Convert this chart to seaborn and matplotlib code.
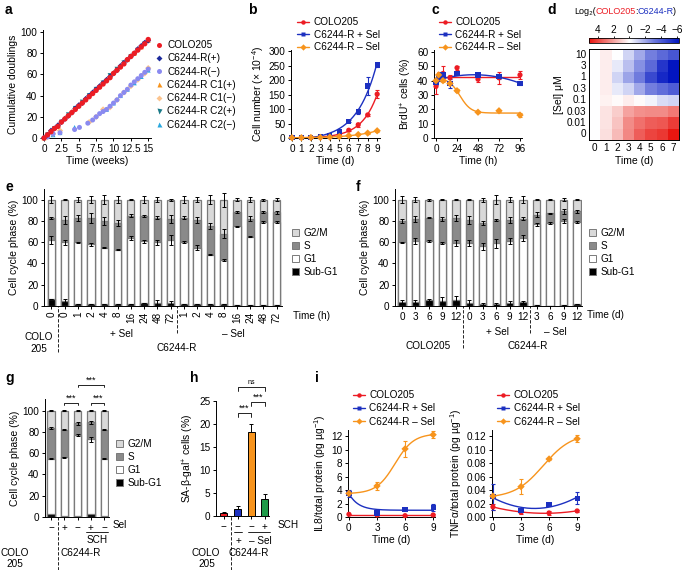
import numpy as np
import pandas as pd
import matplotlib
matplotlib.use('Agg')
import matplotlib.pyplot as plt
import seaborn as sns
from matplotlib.colors import LinearSegmentedColormap
from matplotlib.patches import Patch
from matplotlib.lines import Line2D
from matplotlib.text import Annotation

sns.set_theme(style='ticks')
plt.rcParams['font.family'] = ['Liberation Sans', 'DejaVu Sans']
FS = 7.2
plt.rcParams.update({
    'font.size': FS, 'axes.linewidth': 0.7,
    'xtick.major.width': 0.7, 'ytick.major.width': 0.7,
    'xtick.major.size': 2.5, 'ytick.major.size': 2.5,
    'xtick.labelsize': FS, 'ytick.labelsize': FS, 'axes.labelsize': 7.5,
    'xtick.major.pad': 1.5, 'ytick.major.pad': 1.5, 'axes.labelpad': 2,
    'legend.fontsize': FS, 'axes.edgecolor': 'black',
    'xtick.color': 'black', 'ytick.color': 'black', 'text.color': 'black',
    'axes.labelcolor': 'black',
    'mathtext.fontset': 'custom', 'mathtext.rm': 'Liberation Sans',
    'mathtext.it': 'Liberation Sans:italic', 'mathtext.bf': 'Liberation Sans:bold',
})

RED = '#ec1c24'
BLUE = '#1c30c0'
ORANGE = '#f7941d'
GREEN = '#1e9a48'
G2M_C = '#d9d9d9'
S_C = '#8a8a8a'
EDGE = '#7a7a7a'

# ---------------- data ----------------
# panel a
a_weeks_hi = [0, 0.5, 1, 1.5, 2, 2.5, 3, 3.5, 4, 4.5, 5, 5.5, 6, 6.5, 7, 7.5, 8, 8.5, 9, 9.5,
              10, 10.5, 11, 11.5, 12, 12.5, 13, 13.5, 14, 14.5, 15]
a_colo = [0, 3, 6, 9, 11, 15, 18, 21, 24, 27, 30, 33, 36, 39, 42, 45, 48, 51, 54, 57,
          61, 64, 67, 70, 74, 77, 80, 83, 86, 89, 93]
a_r_plus = [0, 3, 7, 9, 12, 15, 18, 21, 24, 28, 31, 33, 37, 40, 43, 46, 49, 52, 55, 58,
            61, 64, 68, 71, 74, 77, 80, 84, 87, 90, 92]
a_weeks_c1p = [0, 1, 2, 3, 4, 5, 6, 7, 8, 9, 10, 11, 12, 13, 14, 15]
a_c1_plus = [0, 6, 12, 19, 25, 31, 37, 43, 49, 55, 62, 68, 74, 80, 86, 92]
a_weeks_c2p = [0.5, 1.5, 2.5, 3.5, 4.5, 5.5, 6.5, 7.5, 8.5, 9.5, 10.5, 11.5, 12.5, 13.5, 14.5]
a_c2_plus = [3, 9, 15, 22, 28, 34, 40, 46, 52, 59, 65, 71, 77, 83, 89]
a_weeks_lo = [0, 0.5, 1.3, 2.3, 4.4, 5.1, 6.3, 7, 7.5, 8, 8.5, 9, 9.5, 10, 10.5, 11, 11.5,
              12, 12.5, 13, 13.5, 14, 14.5, 15]
a_r_minus = [0, 1, 4, 5, 8, 10, 14, 17, 20, 23, 25, 27, 30, 33, 36, 40, 43, 46, 50, 53,
             56, 59, 62, 65]
a_weeks_c1m = [0.5, 1.3, 2.3, 6.5, 7.5, 8.5, 9.5, 10.5, 11.5, 12.5, 13.5, 14.5, 15]
a_c1_minus = [1, 4, 7, 15, 20, 27, 29, 36, 43, 49, 55, 61, 66]
a_weeks_c2m = [1.3, 2.3, 4.4, 9, 10, 11, 12, 13, 14, 15]
a_c2_minus = [3, 5, 10, 27, 33, 40, 46, 52, 58, 64]

# panel b
b_days = [0, 1, 2, 3, 4, 5, 6, 7, 8, 9]
b_colo = [1, 1.5, 2, 3, 5, 12, 27, 46, 80, 152]
b_colo_err = [0.3, 0.3, 0.5, 0.5, 1, 2, 3, 7, 4, 15]
b_plus = [1, 2, 3, 5, 10, 22, 58, 92, 180, 253]
b_plus_err = [0.3, 0.5, 0.5, 1, 1.5, 2, 3, 8, 30, 6]
b_minus = [1, 1, 1.5, 2, 3, 5, 8, 12, 17, 25]
b_minus_err = [0.2, 0.2, 0.3, 0.3, 0.5, 0.5, 1, 1, 1.5, 4]

# panel c
c_hours = [0, 3, 8, 16, 24, 48, 72, 96]
c_colo = [36, 43, 45, 42, 49, 41, 42, 44]
c_colo_err = [5, 3, 5, 2, 1.5, 2, 4, 3]
c_plus = [39, 42, 44, 38, 45, 44, 43, 38]
c_plus_err = [2, 2, 2, 3, 1, 1, 2, 1]
c_minus = [40, 44, 40, 38, 33, 18, 19, 16]
c_minus_err = [1, 1, 1, 1, 1, 0.8, 0.8, 1.5]

# panel d
d_sel = ['10', '3', '1', '0.3', '0.1', '0.03', '0.01', '0']
d_days = ['0', '1', '2', '3', '4', '5', '6', '7']
d_vals = [
    [0, 0.4, 0.0, -1.0, -2.0, -3.0, -3.6, -4.2],
    [0, 0.4, -0.5, -1.5, -2.6, -3.6, -5.2, -6.2],
    [0, 0.4, -1.0, -2.1, -3.1, -4.6, -5.6, -6.2],
    [0, 0.4, -0.5, -1.0, -2.0, -3.0, -3.5, -4.0],
    [0, 0.3, 0.1, 0.4, 0.1, -0.3, -0.8, -1.0],
    [0, 0.6, 1.1, 2.0, 2.4, 2.5, 2.5, 2.9],
    [0, 0.6, 1.3, 2.5, 3.1, 3.5, 3.6, 4.2],
    [0, 0.7, 1.5, 2.6, 3.5, 4.0, 4.3, 5.0],
]

# panel e
e_labels = ['0', '0', '1', '2', '4', '8', '16', '24', '48', '72',
            '1', '2', '4', '8', '16', '24', '48', '72']
e_sub = [7, 5, 2, 2, 2, 1.5, 1.5, 2.5, 3, 3, 1.5, 1.5, 1.5, 1.5, 1, 1, 1, 1]
e_g1 = [62, 60, 60, 58, 55, 53, 64, 61, 60, 62, 60, 55, 48, 43, 75, 65, 79, 79]
e_s = [83, 81, 83, 83, 80, 78, 85, 85, 83, 82, 83, 81, 75, 68, 88, 82, 88, 88]
e_total = [100] * 18
e_total_err = [3, 0.5, 2.5, 3.5, 4.5, 3, 0.5, 3, 2.5, 1, 3, 2.5, 4.5, 6.5, 1.5, 2.5, 1, 1.5]
e_s_err = [1, 3.5, 3, 4.5, 3.5, 2.5, 1.5, 1, 1.5, 4, 1.5, 2.5, 3, 4.5, 1, 2.5, 1, 1.5]
e_g1_err = [3.5, 2.5, 0.5, 1.5, 0.5, 0.5, 1.5, 1.5, 2.5, 4.5, 1, 2, 0.5, 1, 0.5, 0.5, 0.5, 0.5]
e_sub_err = [0, 2, 0, 0, 0, 0, 0, 0, 3, 1.5, 0, 0, 0, 0, 0, 0, 0, 0]

# panel f
f_labels = ['0', '3', '6', '9', '12', '0', '3', '6', '9', '12', '3', '6', '9', '12']
f_sub = [4, 4, 6, 5, 6, 3, 2, 2, 3, 3.5, 0.5, 0.3, 1, 1.5]
f_g1 = [60, 61, 61, 59, 59, 59, 56, 59, 61, 64, 77, 78, 80, 79]
f_s = [80, 82, 83, 82, 83, 81, 78, 81, 81, 82, 86, 87, 89, 89]
f_total = [100] * 14
f_total_err = [3, 2.5, 1, 0.5, 0.3, 0.5, 2, 4, 2.5, 3.5, 0.5, 0.3, 1.5, 0.5]
f_s_err = [1.5, 3, 0.5, 2, 3, 4, 1.5, 1, 2.5, 1.5, 2, 0.3, 2.5, 1.5]
f_g1_err = [0.5, 3, 1, 1, 3, 3, 3, 4, 3, 3, 1.5, 1, 2, 0.5]
f_sub_err = [1.5, 1.5, 1, 3, 3.5, 3, 1, 1, 1.5, 1, 0, 0, 0, 0]

# panel g
g_labels = ['\u2212', '+', '\u2212', '+', '\u2212']
g_sub = [3, 1, 0.5, 3, 1]
g_g1 = [55, 56, 77, 73, 55]
g_s = [84, 82, 88, 89, 82]
g_total = [100] * 5
g_total_err = [0.5, 0.5, 0.5, 0.5, 0.5]
g_s_err = [1, 0.5, 1, 1.5, 0.5]
g_g1_err = [0.5, 0.5, 1, 2.5, 0.5]

# panel h
h_sch = ['\u2212', '\u2212', '\u2212', '+']
h_vals = [0.6, 1.5, 18.3, 3.8]
h_err = [0.3, 0.7, 1.7, 1.0]
h_colors = [RED, BLUE, ORANGE, GREEN]

# panel i
i_days = [0, 3, 6, 9]
il8_colo = [0.4, 0.3, 0.2, 0.3]
il8_colo_err = [0.1, 0.1, 0.1, 0.1]
il8_plus = [3.5, 0.6, 1.1, 1.4]
il8_plus_err = [0.5, 0.2, 0.2, 0.5]
il8_minus = [3.5, 4.6, 10.1, 12.2]
il8_minus_err = [0.3, 0.6, 1.2, 0.5]
tnf_colo = [0.015, 0.007, 0.006, 0.009]
tnf_colo_err = [0.004, 0.002, 0.003, 0.001]
tnf_plus = [0.030, 0.010, 0.019, 0.028]
tnf_plus_err = [0.019, 0.002, 0.002, 0.009]
tnf_minus = [0.031, 0.045, 0.086, 0.116]
tnf_minus_err = [0.003, 0.011, 0.002, 0.005]

series_labels = ['COLO205', 'C6244-R + Sel', 'C6244-R \u2013 Sel']

# ---------------- helpers ----------------
W, H = 685, 570
fig = plt.figure(figsize=(W / 100, H / 100), dpi=100)


def add_ax(l, t, r, b):
    return fig.add_axes([l / W, 1 - b / H, (r - l) / W, (b - t) / H])


def ftext(x, y, s, **kw):
    kw.setdefault('ha', 'center')
    kw.setdefault('va', 'center')
    kw.setdefault('fontsize', FS)
    return fig.text(x / W, 1 - y / H, s, **kw)


def place_legend(ax, handles, labels, x, y, **kw):
    opts = dict(loc='upper left', bbox_to_anchor=(x / W, 1 - y / H),
                bbox_transform=fig.transFigure, frameon=False, borderpad=0,
                borderaxespad=0, fontsize=FS)
    opts.update(kw)
    return ax.legend(handles, labels, **opts)


def style_ax(ax):
    sns.despine(ax=ax)
    ax.tick_params(axis='both', which='major', direction='out')


# least-squares curve fits of the plotted points (used for the smooth fitted lines)
def fit_sigmoid(x, y):
    x = np.asarray(x, float)
    y = np.asarray(y, float)
    span = x.max() - x.min()
    best = None
    for x0 in np.linspace(x.min(), x.max(), 160):
        for k in np.linspace(span / 25, span / 3, 80):
            s = 1.0 / (1.0 + np.exp(-(x - x0) / k))
            A = np.column_stack([np.ones_like(x), s])
            coef = np.linalg.lstsq(A, y, rcond=None)[0]
            r = ((A @ coef - y) ** 2).sum()
            if best is None or r < best[0]:
                best = (r, x0, k, coef)
    _, x0, k, coef = best
    return lambda t: coef[0] + coef[1] / (1.0 + np.exp(-(t - x0) / k))


def fit_exp(x, y, rates):
    x = np.asarray(x, float)
    y = np.asarray(y, float)
    best = None
    for b in rates:
        A = np.column_stack([np.ones_like(x), np.exp(b * x)])
        coef = np.linalg.lstsq(A, y, rcond=None)[0]
        r = ((A @ coef - y) ** 2).sum()
        if best is None or r < best[0]:
            best = (r, b, coef)
    _, b, coef = best
    return lambda t: coef[0] + coef[1] * np.exp(b * t)


def fit_poly(x, y, order):
    p = np.polyfit(np.asarray(x, float), np.asarray(y, float), order)
    return lambda t: np.polyval(p, t)


def curve_panel(ax, x, ys, errs, colors, markers, fits, ms=14):
    xf = np.linspace(min(x), max(x), 200)
    for y, e, c, m, f in zip(ys, errs, colors, markers, fits):
        sns.lineplot(x=xf, y=f(xf), ax=ax, color=c, lw=1.0, zorder=2)
        ax.errorbar(x, y, yerr=e, fmt='none', ecolor=c, elinewidth=0.8,
                    capsize=1.6, capthick=0.8, zorder=3, clip_on=False)
        sns.scatterplot(x=x, y=y, ax=ax, color=c, marker=m, s=ms,
                        edgecolor='none', linewidth=0, zorder=4, clip_on=False)


def line_handles(colors, markers):
    return [Line2D([0], [0], color=c, marker=m, lw=1.0, ms=3.2, mec='none')
            for c, m in zip(colors, markers)]


# ---------------- panel a ----------------
axa = add_ax(43, 30, 151, 138)
a_series = [
    ('C6244-R C2(\u2212)', a_weeks_c2m, a_c2_minus, '#2aa8df', '^', 12),
    ('C6244-R C1(\u2212)', a_weeks_c1m, a_c1_minus, '#fcc48e', 'D', 10),
    ('C6244-R(\u2212)', a_weeks_lo, a_r_minus, '#8a8af0', 'o', 13),
    ('C6244-R C2(+)', a_weeks_c2p, a_c2_plus, '#1a7a88', 'v', 12),
    ('C6244-R C1(+)', a_weeks_c1p, a_c1_plus, ORANGE, '^', 12),
    ('C6244-R(+)', a_weeks_hi, a_r_plus, '#1c2a9c', 'D', 9),
    ('COLO205', a_weeks_hi, a_colo, RED, 'o', 15),
]
a_handles = {}
for name, t, v, c, m, s in a_series:
    sns.scatterplot(x=t, y=v, ax=axa, color=c, marker=m, s=s, edgecolor='none',
                    linewidth=0, clip_on=False, zorder=3)
    a_handles[name] = Line2D([0], [0], ls='none', marker=m, color=c, mec='none',
                             ms=3.6 if m != 'D' else 3.0)
a_order = ['COLO205', 'C6244-R(+)', 'C6244-R(\u2212)', 'C6244-R C1(+)',
           'C6244-R C1(\u2212)', 'C6244-R C2(+)', 'C6244-R C2(\u2212)']
axa.set_xlim(-0.15, 15.4)
axa.set_ylim(0, 102)
axa.set_xticks([0, 2.5, 5, 7.5, 10, 12.5, 15])
axa.set_xticklabels(['0', '2.5', '5', '7.5', '10', '12.5', '15'])
axa.set_yticks([0, 20, 40, 60, 80, 100])
axa.set_xlabel('Time (weeks)')
axa.set_ylabel('Cumulative doublings')
style_ax(axa)
place_legend(axa, [a_handles[k] for k in a_order], a_order, 155, 40,
             handlelength=0.8, handletextpad=0.4, labelspacing=0.33)

# ---------------- panel b ----------------
axb = add_ax(291, 50, 380, 138)
rates_up = np.linspace(0.05, 1.5, 300)
curve_panel(axb, b_days, [b_colo, b_plus, b_minus],
            [b_colo_err, b_plus_err, b_minus_err],
            [RED, BLUE, ORANGE], ['o', 's', 'D'],
            [fit_exp(b_days, b_colo, rates_up), fit_exp(b_days, b_plus, rates_up),
             fit_exp(b_days, b_minus, rates_up)])
axb.set_xlim(-0.1, 9.3)
axb.set_ylim(0, 305)
axb.set_xticks(b_days)
axb.set_yticks([0, 50, 100, 150, 200, 250, 300])
axb.set_xlabel('Time (d)')
axb.set_ylabel('Cell number (\u00d7 10$^{-4}$)')
style_ax(axb)
place_legend(axb, line_handles([RED, BLUE, ORANGE], ['o', 's', 'D']), series_labels,
             297, 17, handlelength=1.2, handletextpad=0.45, labelspacing=0.25)

# ---------------- panel c ----------------
axc = add_ax(434, 50, 522, 138)
curve_panel(axc, c_hours, [c_colo, c_plus, c_minus],
            [c_colo_err, c_plus_err, c_minus_err],
            [RED, BLUE, ORANGE], ['o', 's', 'D'],
            [fit_poly(c_hours, c_colo, 0), fit_poly(c_hours, c_plus, 2),
             fit_sigmoid(c_hours, c_minus)])
axc.set_xlim(-2.3, 98.3)
axc.set_ylim(0, 61.4)
axc.set_xticks([0, 24, 48, 72, 96])
axc.set_yticks([0, 10, 20, 30, 40, 50, 60])
axc.set_xlabel('Time (h)')
axc.set_ylabel('BrdU$^{+}$ cells (%)')
style_ax(axc)
place_legend(axc, line_handles([RED, BLUE, ORANGE], ['o', 's', 'D']), series_labels,
             439, 17, handlelength=1.2, handletextpad=0.45, labelspacing=0.25)

# ---------------- panel d ----------------
axd = add_ax(589, 49, 679, 140)
cax = add_ax(589, 38, 679, 43)
vmin, vmax = -6.25, 5.1
frac0 = (0 - vmin) / (vmax - vmin)
cmap = LinearSegmentedColormap.from_list(
    'rwb', [(0, '#0014c0'), (frac0 * 0.5, '#6d79dd'), (frac0, '#ffffff'),
            (frac0 + (1 - frac0) * 0.5, '#f28a86'), (1, '#e8120c')])
dfd = pd.DataFrame(d_vals, index=d_sel, columns=d_days)
sns.heatmap(dfd, ax=axd, cmap=cmap, vmin=vmin, vmax=vmax, cbar_ax=cax,
            cbar_kws=dict(orientation='horizontal', ticks=[4, 2, 0, -2, -4, -6]))
axd.tick_params(length=0, pad=2, labelsize=FS)
axd.set_yticklabels(d_sel, rotation=0)
axd.set_xticklabels(d_days, rotation=0)
axd.set_xlabel('Time (d)', fontsize=7.5, labelpad=2)
axd.set_ylabel('[Sel] \u03bcM', fontsize=7.5, labelpad=2)
for sp in axd.spines.values():
    sp.set_visible(True)
    sp.set_linewidth(0.7)
    sp.set_color('black')
cax.invert_xaxis()
cax.xaxis.set_ticks_position('top')
cax.tick_params(axis='x', length=1.5, pad=1, labelsize=FS, width=0.6)
cb = axd.collections[0].colorbar
cb.outline.set_linewidth(0.6)
cb.outline.set_edgecolor('black')
TFS = 6.5
tt = ftext(574, 14, 'Log\u2082(', ha='left', va='baseline', fontsize=TFS)
for piece, col in [('COLO205', RED), (':', 'black'), ('C6244-R', BLUE), (')', 'black')]:
    tt = fig.add_artist(Annotation(piece, xy=(1, 0), xycoords=tt, xytext=(-0.3, 0),
                                   textcoords='offset points', va='bottom', ha='left',
                                   color=col, fontsize=TFS))


# ---------------- stacked bars (e, f, g) ----------------
def stacked(ax, sub, g1, s, tot, errs, width=0.55):
    xs = list(range(len(sub)))
    for vals, col in [(tot, G2M_C), (s, S_C), (g1, 'white'), (sub, 'black')]:
        sns.barplot(x=xs, y=vals, native_scale=True, width=width, color=col,
                    saturation=1, edgecolor=EDGE, linewidth=0.9, errorbar=None, ax=ax)
    for vals, e in zip([tot, s, g1, sub], errs):
        if e is None:
            continue
        ax.errorbar(xs, vals, yerr=e, fmt='none', ecolor='black', elinewidth=0.7,
                    capsize=1.6, capthick=0.7, zorder=5, clip_on=False)
    return xs


def cc_legend(ax, x, y):
    handles = [Patch(facecolor=c, edgecolor=EDGE, linewidth=0.7)
               for c in [G2M_C, S_C, 'white', 'black']]
    place_legend(ax, handles, ['G2/M', 'S', 'G1', 'Sub-G1'], x, y,
                 handlelength=0.7, handleheight=0.7, handletextpad=0.45,
                 labelspacing=0.3)


# panel e
axe = add_ax(44, 189, 282, 306)
xs = stacked(axe, e_sub, e_g1, e_s, e_total, [e_total_err, e_s_err, e_g1_err, e_sub_err])
axe.set_xlim(-0.55, 17.4)
axe.set_ylim(0, 110)
axe.set_yticks([0, 20, 40, 60, 80, 100])
axe.set_xticks(xs)
axe.set_xticklabels(e_labels, rotation=90)
axe.set_xlabel('')
axe.set_ylabel('Cell cycle phase (%)')
style_ax(axe)
axe.axvline(0.5, ymin=-0.39, ymax=0, clip_on=False, color='black', lw=0.6, ls=(0, (4, 2)))
axe.axvline(9.5, ymin=-0.23, ymax=0, clip_on=False, color='black', lw=0.6, ls=(0, (4, 2)))
ftext(293, 316, 'Time (h)', ha='left')
ftext(39, 337, 'COLO')
ftext(39, 349, '205')
ftext(121, 334, '+ Sel')
ftext(233, 334, '\u2013 Sel')
ftext(177, 348, 'C6244-R')
cc_legend(axe, 292, 228)

# panel f
axf = add_ax(395, 189, 582, 306)
xs = stacked(axf, f_sub, f_g1, f_s, f_total, [f_total_err, f_s_err, f_g1_err, f_sub_err])
axf.set_xlim(-0.52, 13.37)
axf.set_ylim(0, 110)
axf.set_yticks([0, 20, 40, 60, 80, 100])
axf.set_xticks(xs)
axf.set_xticklabels(f_labels)
axf.set_xlabel('')
axf.set_ylabel('Cell cycle phase (%)')
style_ax(axf)
axf.axvline(4.5, ymin=-0.36, ymax=0, clip_on=False, color='black', lw=0.6, ls=(0, (4, 2)))
axf.axvline(9.5, ymin=-0.23, ymax=0, clip_on=False, color='black', lw=0.6, ls=(0, (4, 2)))
ftext(587, 315, 'Time (d)', ha='left')
ftext(497, 332, '+ Sel')
ftext(555, 332, '\u2013 Sel')
ftext(428, 346, 'COLO205')
ftext(528, 346, 'C6244-R')
cc_legend(axf, 589, 228)

# panel g
axg = add_ax(45, 399, 109, 517)
xs = stacked(axg, g_sub, g_g1, g_s, g_total, [g_total_err, g_s_err, g_g1_err, None])
axg.set_xlim(-0.45, 4.35)
axg.set_ylim(0, 111)
axg.set_yticks([0, 20, 40, 60, 80, 100])
axg.set_xticks(xs)
axg.set_xticklabels(g_labels)
axg.set_xlabel('')
axg.set_ylabel('Cell cycle phase (%)')
style_ax(axg)
axg.axvline(0.5, ymin=-0.45, ymax=0, clip_on=False, color='black', lw=0.6, ls=(0, (4, 2)))


def bracket(ax, x1, x2, y, h, label, fs=6.5, dy=0.0):
    ax.plot([x1, x1, x2, x2], [y - h, y, y, y - h], color='black', lw=0.6, clip_on=False)
    ax.text((x1 + x2) / 2, y + dy, label, ha='center', va='bottom', fontsize=fs)


bracket(axg, 1, 2, 107.5, 2.5, '***')
bracket(axg, 3, 4, 107.5, 2.5, '***')
bracket(axg, 2, 4, 124.5, 2.5, '***')
ftext(113, 525, 'Sel', ha='left')
fig.add_artist(Line2D([86 / W, 108 / W], [1 - 532 / H, 1 - 532 / H], color='black', lw=0.6))
ftext(97, 540, 'SCH')
ftext(15, 553, 'COLO')
ftext(15, 564, '205')
ftext(81, 553, 'C6244-R')
cc_legend(axg, 116, 439)

# ---------------- panel h ----------------
axh = add_ax(216, 401, 269, 516)
hx = list(range(4))
sns.barplot(x=hx, y=h_vals, hue=hx, palette=h_colors, native_scale=True, width=0.52,
            saturation=1, edgecolor='black', linewidth=0.7, errorbar=None,
            legend=False, ax=axh)
axh.errorbar(hx, h_vals, yerr=[[0] * 4, h_err], fmt='none', ecolor='black',
             elinewidth=0.7, capsize=1.6, capthick=0.7, zorder=5)
axh.set_xlim(-0.58, 3.3)
axh.set_ylim(0, 25)
axh.set_yticks([0, 5, 10, 15, 20, 25])
axh.set_xticks(hx)
axh.set_xticklabels(h_sch)
axh.set_xlabel('')
axh.set_ylabel('SA-\u03b2-gal$^{+}$ cells (%)')
style_ax(axh)
axh.axvline(0.5, ymin=-0.47, ymax=0, clip_on=False, color='black', lw=0.6, ls=(0, (4, 2)))
bracket(axh, 1, 2, 22.4, 0.8, '***')
bracket(axh, 2, 3, 24.8, 0.8, '***')
bracket(axh, 1, 3, 28.0, 0.8, 'ns', fs=5, dy=0.3)
ftext(278, 525, 'SCH', ha='left')
fig.add_artist(Line2D([234 / W, 242 / W], [1 - 532 / H, 1 - 532 / H], color='black', lw=0.6))
fig.add_artist(Line2D([248 / W, 270 / W], [1 - 532 / H, 1 - 532 / H], color='black', lw=0.6))
ftext(238, 541, '+')
ftext(260, 541, '\u2013 Sel')
ftext(206, 553, 'COLO')
ftext(207, 564, '205')
ftext(249, 553, 'C6244-R')

# ---------------- panel i ----------------
rates_down = np.linspace(-1.0, -0.05, 300)
axi1 = add_ax(348, 430, 435, 517)
curve_panel(axi1, i_days, [il8_colo, il8_plus, il8_minus],
            [il8_colo_err, il8_plus_err, il8_minus_err],
            [RED, BLUE, ORANGE], ['o', 's', 'D'],
            [fit_poly(i_days, il8_colo, 0), fit_exp(i_days, il8_plus, rates_down),
             fit_sigmoid(i_days, il8_minus)])
axi1.set_xlim(-0.1, 9.2)
axi1.set_ylim(0, 12.9)
axi1.set_xticks(i_days)
axi1.set_yticks([0, 2, 4, 6, 8, 10, 12])
axi1.set_xlabel('Time (d)')
axi1.set_ylabel('IL8/total protein (pg \u00b5g$^{-1}$)')
style_ax(axi1)
place_legend(axi1, line_handles([RED, BLUE, ORANGE], ['o', 's', 'D']), series_labels,
             353, 390, handlelength=1.2, handletextpad=0.45, labelspacing=0.33)

axi2 = add_ax(492, 430, 579, 517)
curve_panel(axi2, i_days, [tnf_colo, tnf_plus, tnf_minus],
            [tnf_colo_err, tnf_plus_err, tnf_minus_err],
            [RED, BLUE, ORANGE], ['o', 's', 'D'],
            [fit_poly(i_days, tnf_colo, 2), fit_poly(i_days, tnf_plus, 2),
             fit_sigmoid(i_days, tnf_minus)])
axi2.set_xlim(-0.1, 9.2)
axi2.set_ylim(0, 0.129)
axi2.set_xticks(i_days)
axi2.set_yticks([0, 0.02, 0.04, 0.06, 0.08, 0.10, 0.12])
axi2.set_yticklabels(['0.00', '0.02', '0.04', '0.06', '0.08', '0.10', '0.12'])
axi2.set_xlabel('Time (d)')
axi2.set_ylabel('TNF\u03b1/total protein (pg \u00b5g$^{-1}$)')
style_ax(axi2)
place_legend(axi2, line_handles([RED, BLUE, ORANGE], ['o', 's', 'D']), series_labels,
             497, 390, handlelength=1.2, handletextpad=0.45, labelspacing=0.33)

# ---------------- panel letters ----------------
for s, x, y in [('a', 5, 10), ('b', 248, 10), ('c', 431, 10), ('d', 547, 10),
                ('e', 5, 187), ('f', 356, 187), ('g', 5, 378), ('h', 190, 378),
                ('i', 315, 378)]:
    ftext(x, y, s, ha='left', fontsize=10, fontweight='bold')

fig.savefig('out.png', dpi=100)
